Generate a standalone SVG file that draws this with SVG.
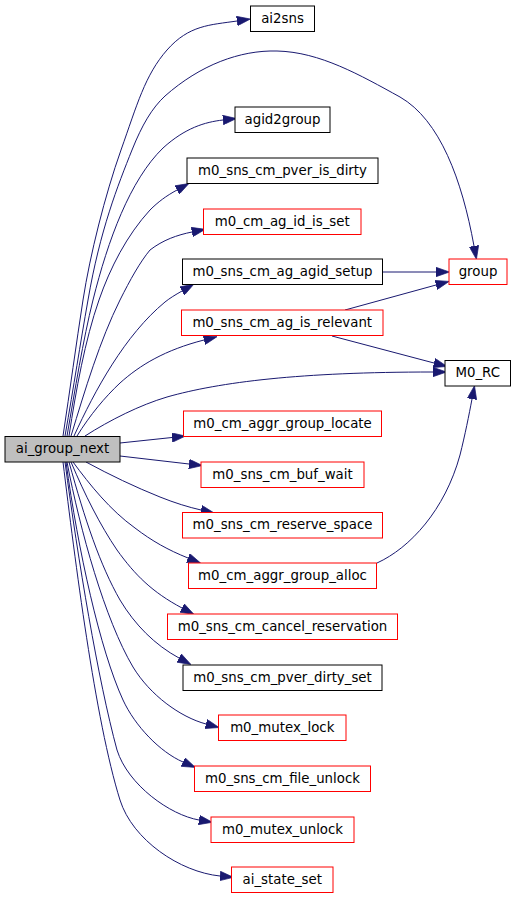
<svg xmlns="http://www.w3.org/2000/svg" width="516" height="899" viewBox="0 0 516 899">
<style>
.n rect{fill:#fff;stroke:#000;stroke-width:1}
.n.r rect{stroke:#ff0000}
.n.g rect{fill:#bfbfbf}
.n text{font-family:"DejaVu Sans",sans-serif;font-size:13.33px;fill:#000;text-anchor:middle}
#edges path{fill:none;stroke:#191970;stroke-width:1;marker-end:url(#ah)}
</style>
<defs>
<marker id="ah" viewBox="0 0 10 7" refX="0" refY="3.5" markerWidth="13.5" markerHeight="9.5" markerUnits="userSpaceOnUse" orient="auto">
<path d="M0,0 L10,3.5 L0,7 z" fill="#191970" stroke="#191970" stroke-width="0.5"/>
</marker>
</defs>
<rect width="516" height="899" fill="#fff"/>
<g id="edges">
<path d="M63,436 C 70,390 76,345 83,300 S 105,195 121,150 S 145,75 167,50 S 210,25 237,21"/>
<path d="M65,436 C 74,385 80,345 88,300 C 100,230 118,185 132,150 C 142,125 152,108 165,96 C 200,65 240,50 277,51 C 320,52 360,75 400,97 C 440,120 462,180 474,246"/>
<path d="M67,436 C 75,390 83,340 93,300 C 108,240 130,180 163,148 C 185,128 205,122 223,120"/>
<path d="M69,436 C 76,390 85,340 99,300 C 110,268 127,235 150,210 C 158,202 166,196 177,190"/>
<path d="M71,436 C 85,390 100,340 120,300 C 130,280 140,262 150,250 C 163,240 177,235 192,232"/>
<path d="M74,436 C 95,390 125,335 165,302 C 170,298 175,295 182,291"/>
<path d="M77,436 C 90,415 105,397 120,383 C 140,365 165,350 204,340"/>
<path d="M85,436 C 110,420 140,405 167,397 C 220,382 300,372 433,372"/>
<path d="M120,443 L172,437.5"/>
<path d="M120,456 L189,464"/>
<path d="M86,462 C 110,475 135,487 160,497 C 175,503 188,507 201,510"/>
<path d="M73,462 C 90,485 110,510 135,528 C 152,541 168,550 188,558"/>
<path d="M71,462 C 85,495 100,525 117,550 C 135,575 152,592 182,608"/>
<path d="M69,462 C 85,520 100,565 120,600 C 135,625 155,645 179,658"/>
<path d="M67,462 C 80,530 105,620 133,667 C 150,695 180,717 206,724"/>
<path d="M66,462 C 78,550 100,650 123,700 C 135,726 160,752 183,762"/>
<path d="M65,462 C 78,560 98,680 117,750 C 128,785 170,815 199,820"/>
<path d="M63,462 C 75,560 95,720 120,800 C 132.5,840 180,872 220,876"/>
<path d="M383,272 L436,272"/>
<path d="M345,310 L436,285"/>
<path d="M332,336 L434,363"/>
<path d="M377,563 C 410,548 445,510 460,455 C 465,435 469,415 472,399"/>
</g>
<g id="ai_group_next" class="n g"><rect x="5" y="436.5" width="115" height="25.5"/><text x="62.5" y="453">ai_group_next</text></g>
<g id="ai2sns" class="n"><rect x="250.5" y="6" width="64" height="25.5"/><text x="282.5" y="22.5">ai2sns</text></g>
<g id="agid2group" class="n"><rect x="235" y="107" width="95" height="25.5"/><text x="282.5" y="123.5">agid2group</text></g>
<g id="m0_sns_cm_pver_is_dirty" class="n"><rect x="187" y="158" width="191" height="25.5"/><text x="282.5" y="174.5">m0_sns_cm_pver_is_dirty</text></g>
<g id="m0_cm_ag_id_is_set" class="n r"><rect x="203.5" y="209" width="157.5" height="25.5"/><text x="282.25" y="225.5">m0_cm_ag_id_is_set</text></g>
<g id="m0_sns_cm_ag_agid_setup" class="n"><rect x="182.5" y="259" width="200" height="25.5"/><text x="282.5" y="275.5">m0_sns_cm_ag_agid_setup</text></g>
<g id="group" class="n r"><rect x="449" y="259" width="58" height="25.5"/><text x="478" y="275.5">group</text></g>
<g id="m0_sns_cm_ag_is_relevant" class="n r"><rect x="181.5" y="310" width="201.5" height="25.5"/><text x="282.25" y="326.5">m0_sns_cm_ag_is_relevant</text></g>
<g id="M0_RC" class="n"><rect x="445" y="360.5" width="65.5" height="25.5"/><text x="477.75" y="377">M0_RC</text></g>
<g id="m0_cm_aggr_group_locate" class="n r"><rect x="183.5" y="411" width="198" height="25.5"/><text x="282.5" y="427.5">m0_cm_aggr_group_locate</text></g>
<g id="m0_sns_cm_buf_wait" class="n r"><rect x="201" y="462" width="163" height="25.5"/><text x="282.5" y="478.5">m0_sns_cm_buf_wait</text></g>
<g id="m0_sns_cm_reserve_space" class="n r"><rect x="182.5" y="512.5" width="200" height="25.5"/><text x="282.5" y="529">m0_sns_cm_reserve_space</text></g>
<g id="m0_cm_aggr_group_alloc" class="n r"><rect x="188.5" y="563" width="188" height="25.5"/><text x="282.5" y="579.5">m0_cm_aggr_group_alloc</text></g>
<g id="m0_sns_cm_cancel_reservation" class="n r"><rect x="167.5" y="614" width="230" height="25.5"/><text x="282.5" y="630.5">m0_sns_cm_cancel_reservation</text></g>
<g id="m0_sns_cm_pver_dirty_set" class="n"><rect x="183" y="665" width="199" height="25.5"/><text x="282.5" y="681.5">m0_sns_cm_pver_dirty_set</text></g>
<g id="m0_mutex_lock" class="n r"><rect x="218.5" y="715" width="127.5" height="25.5"/><text x="282.25" y="731.5">m0_mutex_lock</text></g>
<g id="m0_sns_cm_file_unlock" class="n r"><rect x="194.5" y="766" width="176" height="25.5"/><text x="282.5" y="782.5">m0_sns_cm_file_unlock</text></g>
<g id="m0_mutex_unlock" class="n r"><rect x="211" y="817" width="143" height="25.5"/><text x="282.5" y="833.5">m0_mutex_unlock</text></g>
<g id="ai_state_set" class="n r"><rect x="231.5" y="867" width="101.5" height="25.5"/><text x="282.25" y="883.5">ai_state_set</text></g>
</svg>
